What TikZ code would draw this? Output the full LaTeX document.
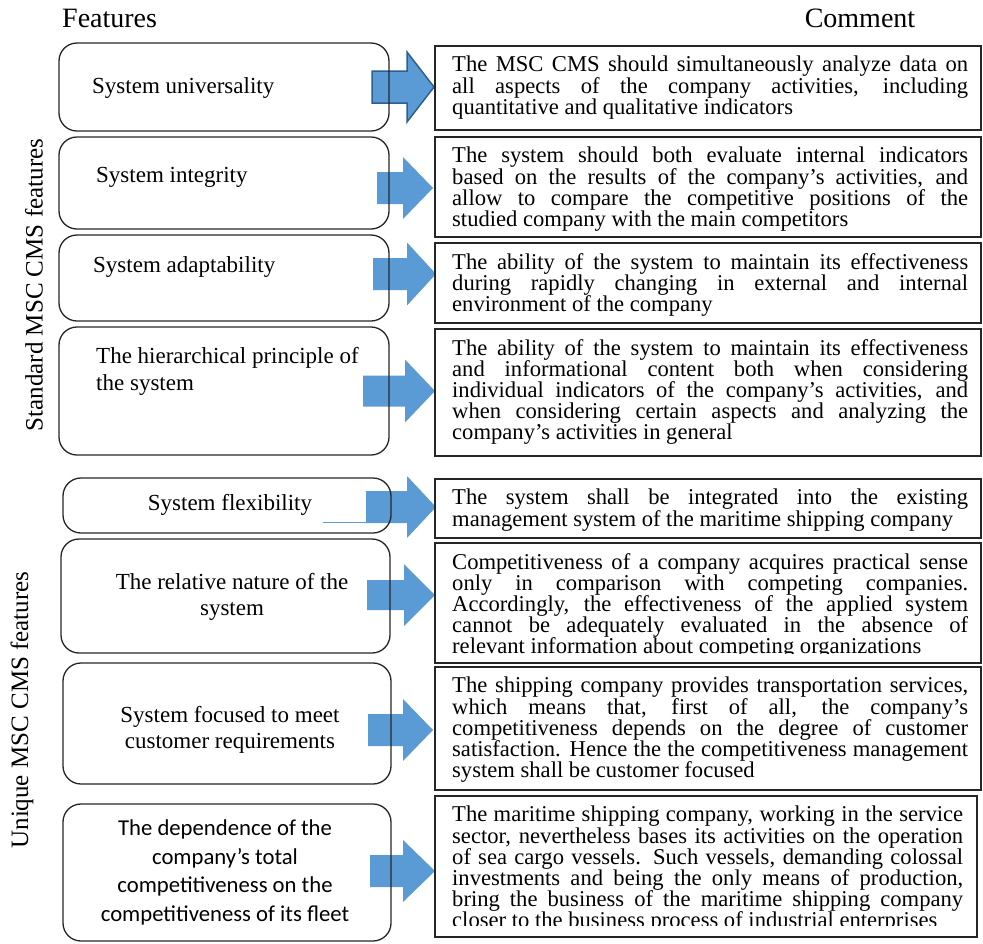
\documentclass[tikz,border=0pt]{standalone}
\usepackage{fontspec}
\setmainfont{Liberation Serif}
\newfontfamily\calibrifont{Carlito}
\definecolor{arrowblue}{HTML}{5B9BD5}
\definecolor{arrowedge}{HTML}{2F5F8F}
\definecolor{boxline}{HTML}{262626}
\definecolor{strayline}{HTML}{5B9BD5}
% [options]{shaft start x}{head base x}{tip x}{centre y}{shaft half height}{head half height}
\newcommand{\blkarrow}[7][]{\path[arrowshape,#1] (#2,#5-#6) -- (#3,#5-#6) -- (#3,#5-#7) -- (#4,#5) -- (#3,#5+#7) -- (#3,#5+#6) -- (#2,#5+#6) -- cycle;}
\tikzset{
  arrowshape/.style={fill=arrowblue},
  lbox/.style={draw=boxline, line width=1.3pt, rounded corners=18pt, anchor=north west, inner sep=0pt, outer sep=0pt},
  rbox/.style={draw=boxline, line width=1.5pt, anchor=north west, inner sep=0pt, outer sep=0pt},
  ltext/.style={inner sep=0pt, font=\fontsize{23}{26.5}\selectfont},
  rtext/.style={anchor=north west, inner sep=0pt, text width=516pt, align=justify,
    font=\fontsize{22.6}{21.2}\selectfont},
  vlabel/.style={rotate=90, inner sep=0pt, font=\fontsize{25}{30}\selectfont},
  header/.style={inner sep=0pt, font=\fontsize{28}{30}\selectfont}
}
\begin{document}
\lineskiplimit=-20pt
\tolerance=10000
\hbadness=10000
\hyphenpenalty=10000
\exhyphenpenalty=10000
\begin{tikzpicture}[x=1pt, y=-1pt]
\useasboundingbox (0,0) rectangle (983,943);

% headers
\node[header, anchor=west] (hfeat) at (62,18) {Features};
\node[header] (hcomm) at (860,18) {Comment};

% side labels
\node[vlabel] (vstd) at (34,285) {Standard MSC CMS features};
\node[vlabel] (vuni) at (22,710) {Unique MSC CMS features};

% block arrows (drawn first, boxes on top)
\blkarrow[draw=arrowedge, line width=1.5pt]{372}{407}{434}{87}{16}{35}
\blkarrow{377}{403}{433}{188}{16}{31}
\blkarrow{373}{407}{436}{274}{16}{31.5}
\blkarrow{363}{405}{435}{391}{15.5}{31.5}
\blkarrow{366}{407}{436}{507}{16}{31}
\blkarrow{367}{404}{435}{595}{15}{31}
\blkarrow{368}{403}{433}{730}{16}{31}
\blkarrow{370}{403}{435}{871}{16}{31}
\draw[strayline, line width=0.8pt] (323,522) -- (367,522);

% left feature boxes
\node[lbox, minimum width=330pt, minimum height=88pt] (L1) at (59,43) {};
\node[lbox, minimum width=330pt, minimum height=92pt] (L2) at (59,137) {};
\node[lbox, minimum width=330pt, minimum height=86pt] (L3) at (59,235) {};
\node[lbox, minimum width=330pt, minimum height=128pt] (L4) at (59,327) {};
\node[lbox, minimum width=328pt, minimum height=55pt] (L5) at (63,478) {};
\node[lbox, minimum width=329pt, minimum height=114pt] (L6) at (61,539) {};
\node[lbox, minimum width=328pt, minimum height=121pt] (L7) at (63,663) {};
\node[lbox, minimum width=328pt, minimum height=137pt] (L8) at (63,804) {};

% left texts
\node[ltext, anchor=west] (t1) at (92,88) {System universality};
\node[ltext, anchor=west] (t2) at (96,177) {System integrity};
\node[ltext, anchor=west] (t3) at (93,267) {System adaptability};
\node[ltext, anchor=west, align=left] (t4) at (96,371.5) {The hierarchical principle of\\the system};
\node[ltext] (t5) at (230,505) {System flexibility};
\node[ltext, align=center] (t6) at (232,597) {The relative nature of the\\system};
\node[ltext, align=center] (t7) at (230,730) {System focused to meet\\customer requirements};
\node[inner sep=0pt, align=center, font=\calibrifont\fontsize{22.7}{28.5}\selectfont] (t8) at (225,872.5)
  {The dependence of the\\company’s total\\competitiveness on the\\competitiveness of its fleet};

% right comment boxes
\node[rbox, minimum width=546pt, minimum height=84pt] (R1) at (435,46) {};
\node[rbox, minimum width=546pt, minimum height=100pt] (R2) at (435,137) {};
\node[rbox, minimum width=546pt, minimum height=80pt] (R3) at (435,243) {};
\node[rbox, minimum width=546pt, minimum height=127pt] (R4) at (435,329) {};
\node[rbox, minimum width=546pt, minimum height=59pt] (R5) at (435,479) {};
\node[rbox, minimum width=546pt, minimum height=120pt] (R6) at (435,543) {};
\node[rbox, minimum width=546pt, minimum height=123pt] (R7) at (435,667) {};
\node[rbox, minimum width=542pt, minimum height=141pt] (R8) at (435,796) {};

% right texts
\node[rtext] (c1) at (452,56) {The MSC CMS should simultaneously analyze data on\linebreak
all aspects of the company activities, including\linebreak
quantitative and qualitative indicators};
\node[rtext] (c2) at (452,147) {The system should both evaluate internal indicators\linebreak
based on the results of the company’s activities, and\linebreak
allow to compare the competitive positions of the\linebreak
studied company with the main competitors};
\node[rtext] (c3) at (452,253) {The ability of the system to maintain its effectiveness\linebreak
during rapidly changing in external and internal\linebreak
environment of the company};
\node[rtext] (c4) at (452,339) {The ability of the system to maintain its effectiveness\linebreak
and informational content both when considering\linebreak
individual indicators of the company’s activities, and\linebreak
when considering certain aspects and analyzing the\linebreak
company's activities in general};
\node[rtext] (c5) at (452,489) {The system shall be integrated into the existing\linebreak
management system of the maritime shipping company};
\begin{scope}
\clip (435,543) rectangle (981,653);
\node[rtext] (c6) at (452,553) {Competitiveness of a company acquires practical sense\linebreak
only in comparison with competing companies.\linebreak
Accordingly, the effectiveness of the applied system\linebreak
cannot be adequately evaluated in the absence of\linebreak
relevant information about competing organizations};
\end{scope}
\node[rtext] (c7) at (452,677) {The shipping company provides transportation services,\linebreak
which means that, first of all, the company's\linebreak
competitiveness depends on the degree of customer\linebreak
satisfaction. Hence the the competitiveness management\linebreak
system shall be customer focused};
\begin{scope}
\clip (435,796) rectangle (977,925);
\node[rtext, text width=511pt] (c8) at (452,806) {The maritime shipping company, working in the service\linebreak
sector, nevertheless bases its activities on the operation\linebreak
of sea cargo vessels. Such vessels, demanding colossal\linebreak
investments and being the only means of production,\linebreak
bring the business of the maritime shipping company\linebreak
closer to the business process of industrial enterprises};
\end{scope}
\end{tikzpicture}
\end{document}
